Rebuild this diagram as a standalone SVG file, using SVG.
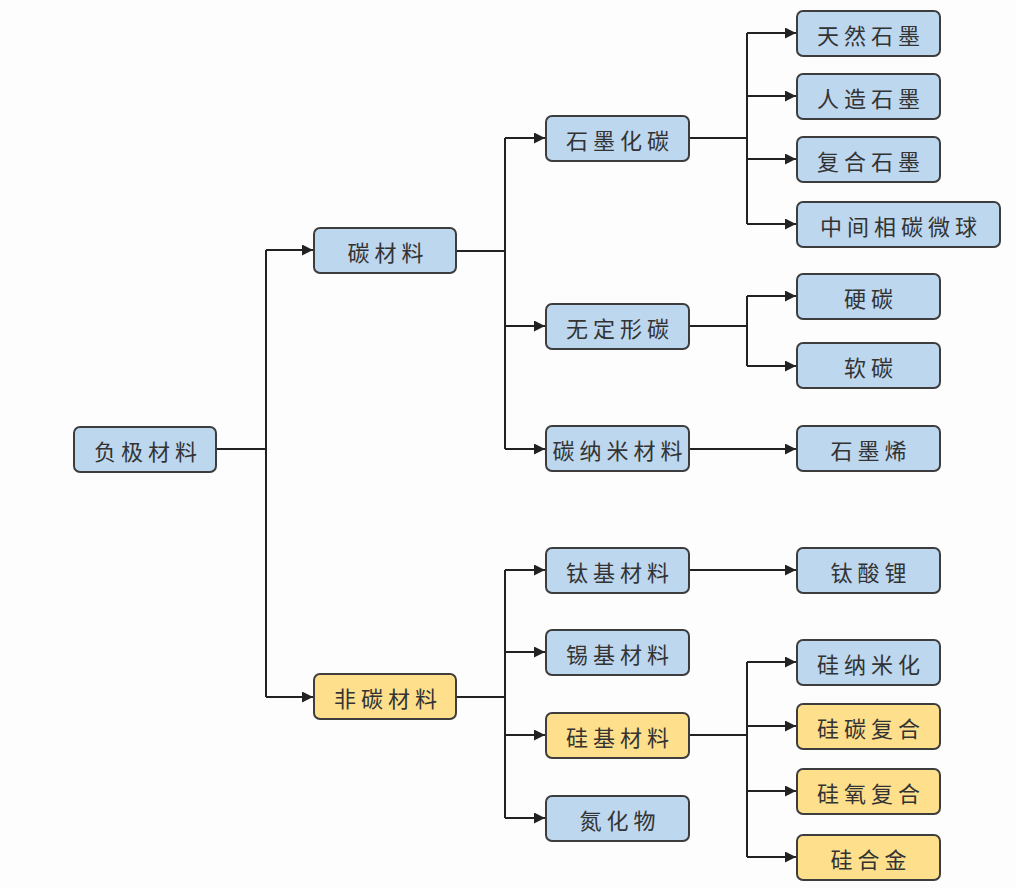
<svg xmlns="http://www.w3.org/2000/svg" width="1016" height="888" viewBox="0 0 1016 888">
<defs>
<style>
.b rect{fill:#bdd7ee;stroke:#3d3d3d;stroke-width:2}
.y rect{fill:#fedf8c;stroke:#3d3d3d;stroke-width:2}
text{font-family:"Noto Sans CJK SC","Noto Sans",sans-serif;font-size:22px;fill:#333;text-anchor:middle;dominant-baseline:central;letter-spacing:5px}
.c path{fill:none;stroke:#222;stroke-width:2}
.c .a{marker-end:url(#ar)}
</style>
<marker id="ar" viewBox="0 0 10 10" refX="10" refY="5" markerWidth="5.5" markerHeight="5.5" orient="auto" markerUnits="strokeWidth"><path d="M0,0 L10,5 L0,10 z" fill="#222"/></marker>
</defs>
<rect width="1016" height="888" fill="#fdfdfd"/>
<g class="c" id="connectors">
<path d="M216,449 H266 M266,250 V697"/>
<path class="a" d="M266,250 H313"/>
<path class="a" d="M266,697 H313"/>
<path d="M456,251 H505 M505,138 V449"/>
<path class="a" d="M505,138 H545"/>
<path class="a" d="M505,326 H545"/>
<path class="a" d="M505,449 H545"/>
<path d="M456,697 H505 M505,570 V818"/>
<path class="a" d="M505,570 H545"/>
<path class="a" d="M505,652 H545"/>
<path class="a" d="M505,735 H545"/>
<path class="a" d="M505,818 H545"/>
<path d="M689,138 H747 M747,33 V224"/>
<path class="a" d="M747,33 H796"/>
<path class="a" d="M747,96 H796"/>
<path class="a" d="M747,159 H796"/>
<path class="a" d="M747,224 H796"/>
<path d="M689,326 H747 M747,296 V366"/>
<path class="a" d="M747,296 H796"/>
<path class="a" d="M747,366 H796"/>
<path class="a" d="M689,449 H796"/>
<path class="a" d="M689,570 H796"/>
<path d="M689,735 H747 M747,662 V857"/>
<path class="a" d="M747,662 H796"/>
<path class="a" d="M747,726 H796"/>
<path class="a" d="M747,791 H796"/>
<path class="a" d="M747,857 H796"/>
</g>
<g id="n0" class="b"><rect x="74" y="427" width="142" height="45" rx="6"/><text x="148" y="450">负极材料</text></g>
<g id="n1" class="b"><rect x="314" y="228" width="142" height="45" rx="6"/><text x="388" y="251">碳材料</text></g>
<g id="n2" class="y"><rect x="314" y="674" width="142" height="45" rx="6"/><text x="388" y="697">非碳材料</text></g>
<g id="n3" class="b"><rect x="546" y="116" width="143" height="45" rx="6"/><text x="620" y="139">石墨化碳</text></g>
<g id="n4" class="b"><rect x="546" y="304" width="143" height="45" rx="6"/><text x="620" y="327">无定形碳</text></g>
<g id="n5" class="b"><rect x="546" y="426" width="143" height="45" rx="6"/><text x="620" y="449">碳纳米材料</text></g>
<g id="n6" class="b"><rect x="546" y="548" width="143" height="45" rx="6"/><text x="620" y="571">钛基材料</text></g>
<g id="n7" class="b"><rect x="546" y="630" width="143" height="45" rx="6"/><text x="620" y="653">锡基材料</text></g>
<g id="n8" class="y"><rect x="546" y="713" width="143" height="45" rx="6"/><text x="620" y="736">硅基材料</text></g>
<g id="n9" class="b"><rect x="546" y="796" width="143" height="45" rx="6"/><text x="620" y="819">氮化物</text></g>
<g id="n10" class="b"><rect x="797" y="11" width="143" height="45" rx="6"/><text x="871" y="34">天然石墨</text></g>
<g id="n11" class="b"><rect x="797" y="74" width="143" height="45" rx="6"/><text x="871" y="97">人造石墨</text></g>
<g id="n12" class="b"><rect x="797" y="137" width="143" height="45" rx="6"/><text x="871" y="160">复合石墨</text></g>
<g id="n13" class="b"><rect x="797" y="202" width="203" height="45" rx="6"/><text x="901" y="225">中间相碳微球</text></g>
<g id="n14" class="b"><rect x="797" y="274" width="143" height="45" rx="6"/><text x="871" y="297">硬碳</text></g>
<g id="n15" class="b"><rect x="797" y="343" width="143" height="45" rx="6"/><text x="871" y="366">软碳</text></g>
<g id="n16" class="b"><rect x="797" y="426" width="143" height="45" rx="6"/><text x="871" y="449">石墨烯</text></g>
<g id="n17" class="b"><rect x="797" y="548" width="143" height="45" rx="6"/><text x="871" y="571">钛酸锂</text></g>
<g id="n18" class="b"><rect x="797" y="640" width="143" height="45" rx="6"/><text x="871" y="663">硅纳米化</text></g>
<g id="n19" class="y"><rect x="797" y="704" width="143" height="45" rx="6"/><text x="871" y="727">硅碳复合</text></g>
<g id="n20" class="y"><rect x="797" y="769" width="143" height="45" rx="6"/><text x="871" y="792">硅氧复合</text></g>
<g id="n21" class="y"><rect x="797" y="835" width="143" height="45" rx="6"/><text x="871" y="858">硅合金</text></g>
</svg>
